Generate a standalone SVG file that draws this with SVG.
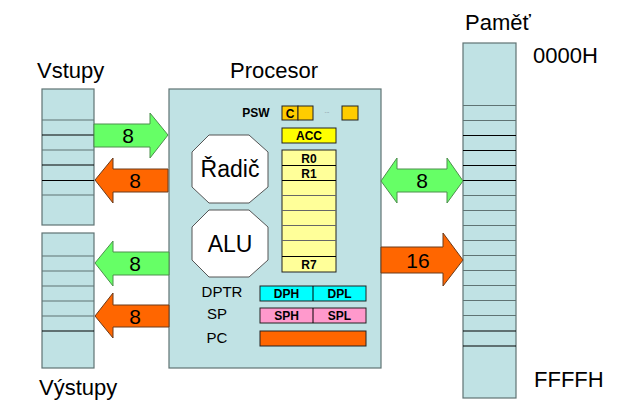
<svg xmlns="http://www.w3.org/2000/svg" width="617" height="409" viewBox="0 0 617 409">
<defs>
<style>
.col{fill:#c0e2e4;stroke:#5f7373;stroke-width:1.2}
.lg{stroke:#5f7373;stroke-width:1}
.lb{stroke:#000;stroke-width:1}
.big{font-family:"Liberation Sans",Arial,sans-serif;font-size:22px;fill:#000}
.oct{fill:#fff;stroke:#555;stroke-width:1}
.octt{font-family:"Liberation Sans",Arial,sans-serif;font-size:23px;fill:#000;text-anchor:middle}
.reg{font-family:"Liberation Sans",Arial,sans-serif;font-size:12px;font-weight:bold;fill:#000;text-anchor:middle}
.lbl{font-family:"Liberation Sans",Arial,sans-serif;font-size:15px;fill:#000;text-anchor:middle}
.ga{fill:#66ff66;stroke:#4d8f4d;stroke-width:1}
.oa{fill:#ff6600;stroke:#6b3a1a;stroke-width:1}
.at{font-family:"Liberation Sans",Arial,sans-serif;font-size:21px;fill:#000;text-anchor:middle}
.box{stroke:#222;stroke-width:1}
</style>
</defs>

<g id="vstupy">
<rect class="col" x="42" y="89" width="52" height="136"/>
<line class="lg" x1="42" y1="120" x2="94" y2="120"/>
<line class="lb" x1="42" y1="135" x2="94" y2="135"/>
<line class="lg" x1="42" y1="150" x2="94" y2="150"/>
<line class="lb" x1="42" y1="165" x2="94" y2="165"/>
<line class="lb" x1="42" y1="180.5" x2="94" y2="180.5"/>
<line class="lg" x1="42" y1="195" x2="94" y2="195"/>
<text class="big" x="37" y="78">Vstupy</text>
</g>

<g id="vystupy">
<rect class="col" x="42" y="233" width="52" height="135"/>
<line class="lg" x1="42" y1="256" x2="94" y2="256"/>
<line class="lg" x1="42" y1="271" x2="94" y2="271"/>
<line class="lg" x1="42" y1="286" x2="94" y2="286"/>
<line class="lg" x1="42" y1="301" x2="94" y2="301"/>
<line class="lg" x1="42" y1="316" x2="94" y2="316"/>
<line class="lb" x1="42" y1="331" x2="94" y2="331"/>
<text class="big" x="39" y="395">Výstupy</text>
</g>

<g id="pamet">
<rect class="col" x="463" y="43" width="53" height="355"/>
<g class="lg">
<line x1="463" y1="105.5" x2="516" y2="105.5"/>
<line x1="463" y1="120.5" x2="516" y2="120.5"/>
<line x1="463" y1="195.5" x2="516" y2="195.5"/>
<line x1="463" y1="210.5" x2="516" y2="210.5"/>
<line x1="463" y1="225.5" x2="516" y2="225.5"/>
<line x1="463" y1="240.5" x2="516" y2="240.5"/>
<line x1="463" y1="255.5" x2="516" y2="255.5"/>
<line x1="463" y1="270.5" x2="516" y2="270.5"/>
<line x1="463" y1="285.5" x2="516" y2="285.5"/>
<line x1="463" y1="300.5" x2="516" y2="300.5"/>
<line x1="463" y1="315.5" x2="516" y2="315.5"/>
</g>
<g class="lb">
<line x1="463" y1="135.5" x2="516" y2="135.5"/>
<line x1="463" y1="150.5" x2="516" y2="150.5"/>
<line x1="463" y1="165.5" x2="516" y2="165.5"/>
<line x1="463" y1="180.5" x2="516" y2="180.5"/>
<line x1="463" y1="331" x2="516" y2="331"/>
<line x1="463" y1="346" x2="516" y2="346"/>
</g>
<text class="big" x="465" y="30">Paměť</text>
<text class="big" x="533" y="63">0000H</text>
<text class="big" x="534" y="387">FFFFH</text>
</g>

<g id="procesor">
<rect x="169" y="89" width="212" height="279" fill="#c0e2e4" stroke="#5f7373" stroke-width="1.2"/>
<text class="big" x="274" y="78" text-anchor="middle">Procesor</text>
</g>

<g id="psw">
<text class="reg" x="256" y="117">PSW</text>
<rect class="box" x="282" y="106" width="16" height="14" fill="#ffcc00"/>
<rect class="box" x="298" y="106" width="15" height="14" fill="#ffcc00"/>
<text class="reg" x="290" y="117.5">C</text>
<text x="327" y="113" font-family="Liberation Sans,Arial,sans-serif" font-size="6" fill="#667" text-anchor="middle">...</text>
<rect class="box" x="342" y="106" width="16" height="14" fill="#ffcc00"/>
</g>

<g id="acc">
<rect class="box" x="282" y="128" width="54" height="15" fill="#ffff00"/>
<text class="reg" x="309" y="140">ACC</text>
</g>

<g id="registers">
<rect class="box" x="282" y="150" width="54" height="122" fill="#ffff99"/>
<g class="lb">
<line x1="282" y1="165.5" x2="336" y2="165.5"/>
<line x1="282" y1="180.5" x2="336" y2="180.5"/>
</g>
<g stroke="#666" stroke-width="1">
<line x1="282" y1="195.5" x2="336" y2="195.5"/>
<line x1="282" y1="210.5" x2="336" y2="210.5"/>
<line x1="282" y1="225.5" x2="336" y2="225.5"/>
<line x1="282" y1="240.5" x2="336" y2="240.5"/>
</g>
<line class="lb" x1="282" y1="256.5" x2="336" y2="256.5"/>
<text class="reg" x="309" y="162.5">R0</text>
<text class="reg" x="309" y="177.5">R1</text>
<text class="reg" x="309" y="268.5">R7</text>
</g>

<g id="radic">
<polygon class="oct" points="209,135 249,135 268,152 268,187 249,203 209,203 192,187 192,152"/>
<text class="octt" x="230" y="177">Řadič</text>
</g>

<g id="alu">
<polygon class="oct" points="209,210 249,210 268,227 268,260 249,277 209,277 192,260 192,227"/>
<text class="octt" x="230" y="252">ALU</text>
</g>

<g id="dptr">
<text class="lbl" x="222" y="297">DPTR</text>
<rect class="box" x="260" y="286" width="106" height="15" fill="#00ffff" stroke="#4a6a6a"/>
<line class="lb" x1="313" y1="286" x2="313" y2="301"/>
<text class="reg" x="286.5" y="298">DPH</text>
<text class="reg" x="339.5" y="298">DPL</text>
</g>

<g id="sp">
<text class="lbl" x="217" y="319">SP</text>
<rect class="box" x="260" y="308" width="106" height="15" fill="#ff99cc" stroke="#4a4a4a"/>
<line class="lb" x1="313" y1="308" x2="313" y2="323"/>
<text class="reg" x="286.5" y="320">SPH</text>
<text class="reg" x="339.5" y="320">SPL</text>
</g>

<g id="pc">
<text class="lbl" x="217" y="343">PC</text>
<rect class="box" x="260" y="331" width="106" height="15" fill="#ff6600"/>
</g>

<g id="connectors">
<polygon class="ga" points="94,124 150,124 150,113 168,135 150,158 150,147 94,147"/>
<text class="at" x="128" y="143">8</text>
<polygon class="oa" points="168,169 113,169 113,158 95,180 113,203 113,192 168,192"/>
<text class="at" x="135" y="188">8</text>
<polygon class="ga" points="169,252 113,252 113,241 95,263 113,286 113,275 169,275"/>
<text class="at" x="135" y="271">8</text>
<polygon class="oa" points="169,305 113,305 113,293 95,316 113,338 113,327 169,327"/>
<text class="at" x="135" y="324">8</text>
<polygon class="ga" points="381,181 397,158 397,169 447,169 447,158 463,181 447,203 447,192 397,192 397,203"/>
<text class="at" x="422" y="188">8</text>
<polygon class="oa" points="381,247 443,247 443,233 463,260 443,286 443,273 381,273"/>
<text class="at" x="418" y="268">16</text>
</g>
</svg>
